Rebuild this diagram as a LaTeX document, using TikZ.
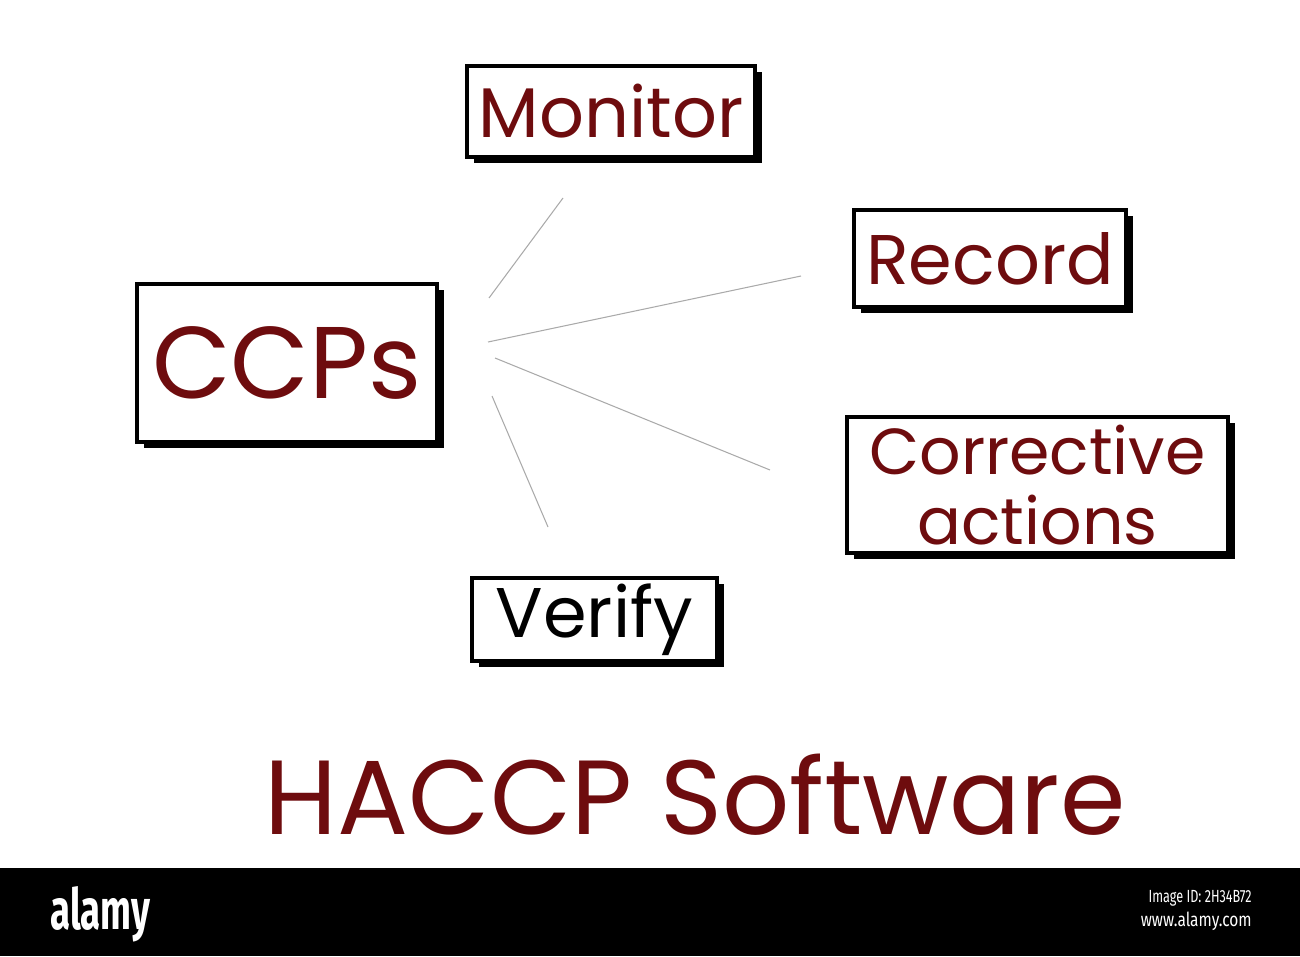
\documentclass[tikz,border=0pt]{standalone}
\usepackage{fontspec}
\setmainfont{Poppins}
\newfontfamily\barfont{Fira Sans}
\usepackage{tikz}
\usetikzlibrary{shadows}
\definecolor{haccpred}{RGB}{110,12,14}
\definecolor{linkgray}{RGB}{170,170,170}

\begin{document}
\begin{tikzpicture}[x=0.02cm, y=-0.02cm,
  stepbox/.style={draw, line width=1.8pt, fill=white, inner sep=0pt,
    align=center, text=haccpred,
    drop shadow={shadow xshift=0.14cm, shadow yshift=-0.12cm,
      fill=black, opacity=1}},
  link/.style={linkgray, line width=0.6pt}]

\useasboundingbox (0,0) rectangle (1300,956);

\draw (611, 111.5) node[stepbox, minimum width=5.76cm, minimum height=1.82cm,
  font=\fontsize{40}{44}\selectfont] (monitor) {Monitor};
\draw (287, 363) node[stepbox, minimum width=6.0cm, minimum height=3.16cm,
  font=\fontsize{58}{62}\selectfont] (ccps) {CCPs};
\draw (990, 258.5) node[stepbox, minimum width=5.44cm, minimum height=1.94cm,
  font=\fontsize{40}{44}\selectfont] (record) {Record};
\draw (1037.5, 485) node[stepbox, minimum width=7.62cm, minimum height=2.72cm,
  font=\fontsize{37}{40}\selectfont] (corrective) {Corrective\\actions};
\draw (594.5, 619.5) node[stepbox, minimum width=4.9cm, minimum height=1.66cm,
  text=black, font=\fontsize{40}{44}\selectfont] (verify) {Verify};

\coordinate (m1) at (563,198);
\coordinate (m2) at (489,298);
\coordinate (r1) at (801,276);
\coordinate (r2) at (488,342);
\coordinate (c1) at (495,358);
\coordinate (c2) at (770,470);
\coordinate (v1) at (492,396);
\coordinate (v2) at (548,527);
\draw[link] (m1) -- (m2);
\draw[link] (r1) -- (r2);
\draw[link] (c1) -- (c2);
\draw[link] (v1) -- (v2);

\draw (695, 795) node[text=haccpred, font=\fontsize{60}{64}\selectfont] (title)
  {HACCP Software};

\fill[black] (0,868) rectangle (1300,956);
\draw (50, 914) node[anchor=west, text=white, inner sep=0pt] (alamy)
  {\resizebox{2cm}{0.86cm}{\barfont\bfseries alamy}};
\draw (1252, 898) node[anchor=east, text=white, inner sep=0pt] (imageid)
  {\scalebox{0.72}[1]{\barfont\fontsize{10}{11}\selectfont Image ID: 2H34B72}};
\draw (1252, 921) node[anchor=east, text=white, inner sep=0pt] (www)
  {\scalebox{0.8}[1]{\barfont\fontsize{11}{12}\selectfont www.alamy.com}};
\end{tikzpicture}
\end{document}
